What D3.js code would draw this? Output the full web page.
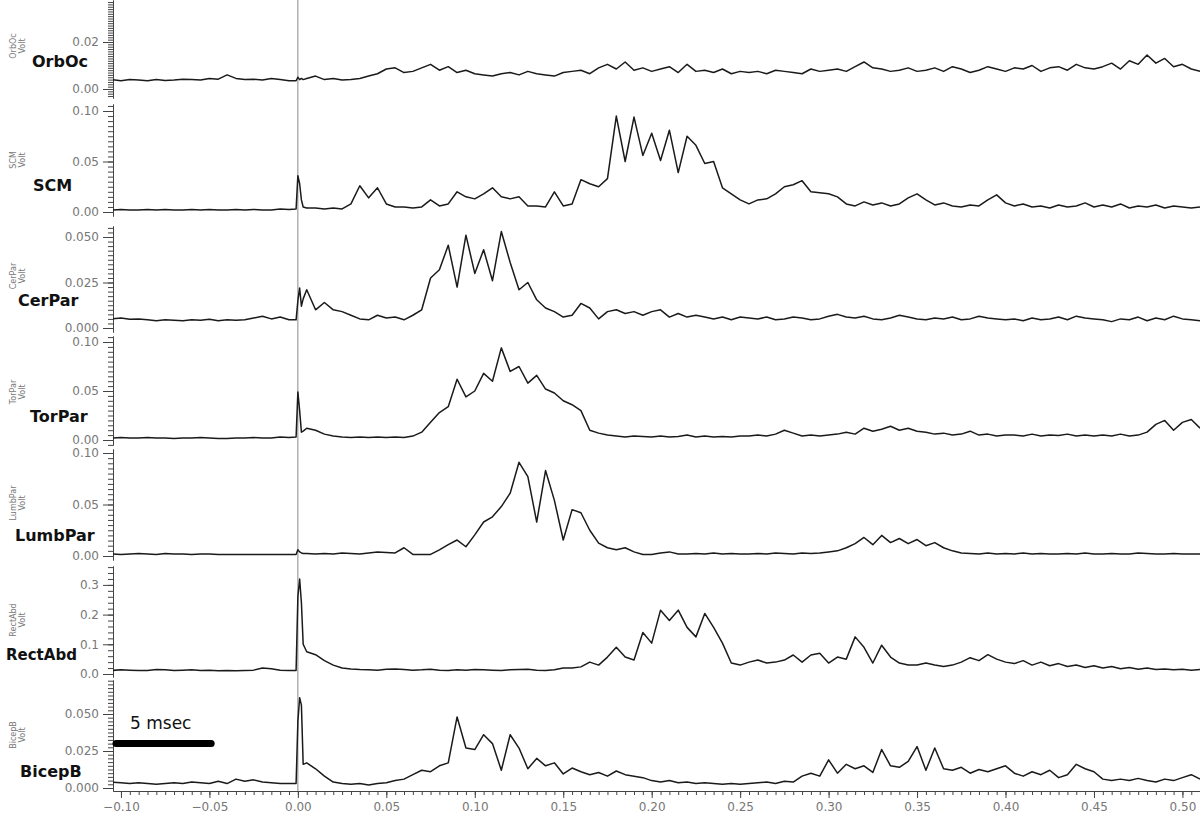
<!DOCTYPE html>
<html>
<head>
<meta charset="utf-8">
<script src="https://cdn.jsdelivr.net/npm/d3@7"></script>
<style>
  body { margin: 0; background: #fff; }
  text { font-family: "DejaVu Sans", Verdana, sans-serif; }
</style>
</head>
<body>
<svg id="chart" width="1200" height="825"></svg>
<script>
// Sample times (s): 5 ms grid, with a few extra samples round the stimulus at 0
const times = [
  ...d3.range(-0.105, -0.0049, 0.005),
  -0.001, 0, 0.001, 0.002, 0.003,
  ...d3.range(0.005, 0.5101, 0.005)
];

// EMG amplitude per channel (Volt)
const orbOc = [
  0.004,0.0035,0.004,0.0038,0.0035,0.004,0.0036,0.0038,0.0042,0.004,0.0038,0.0045,0.0042,0.006,0.0045,0.004,0.0042,0.0038,0.0045,0.004,0.0035,
  0.0035,0.005,0.004,0.0045,0.004,
  0.0045,0.0055,0.004,0.0045,0.0038,0.004,0.0045,0.0055,0.0065,0.0085,
  0.009,0.007,0.0075,0.009,0.0105,0.008,0.0095,0.007,0.008,0.0065,
  0.006,0.0055,0.0065,0.007,0.006,0.0075,0.0065,0.006,0.0055,0.007,
  0.0075,0.008,0.0065,0.009,0.0105,0.0085,0.0115,0.008,0.009,0.0075,
  0.0085,0.0095,0.007,0.0105,0.0075,0.008,0.007,0.0085,0.0065,0.0075,
  0.007,0.0075,0.0065,0.008,0.0075,0.007,0.0065,0.0085,0.0075,0.008,
  0.0085,0.0075,0.0095,0.0115,0.009,0.0085,0.0075,0.008,0.009,0.0075,
  0.008,0.009,0.0075,0.0095,0.0085,0.007,0.008,0.0095,0.0085,0.0075,
  0.009,0.0085,0.01,0.0075,0.009,0.0095,0.008,0.0105,0.009,0.0085,
  0.0095,0.011,0.0085,0.012,0.0105,0.0145,0.011,0.013,0.0095,0.0105,
  0.0085,0.0075
];
const scm = [
  0.002,0.0025,0.002,0.002,0.0025,0.002,0.0025,0.002,0.002,0.0025,0.002,0.0025,0.002,0.002,0.0025,0.002,0.0025,0.002,0.002,0.003,0.0025,
  0.003,0.036,0.028,0.012,0.005,
  0.004,0.004,0.003,0.004,0.003,0.008,0.026,0.014,0.024,0.008,
  0.005,0.005,0.004,0.005,0.012,0.006,0.008,0.02,0.015,0.013,
  0.018,0.024,0.015,0.013,0.015,0.006,0.006,0.005,0.02,0.006,
  0.008,0.032,0.028,0.025,0.033,0.095,0.05,0.094,0.056,0.078,
  0.051,0.081,0.039,0.075,0.066,0.048,0.05,0.024,0.018,0.012,
  0.008,0.012,0.013,0.018,0.025,0.027,0.031,0.02,0.019,0.018,
  0.015,0.008,0.006,0.01,0.007,0.009,0.006,0.008,0.014,0.018,
  0.012,0.007,0.009,0.006,0.005,0.007,0.006,0.012,0.017,0.009,
  0.006,0.008,0.005,0.006,0.004,0.007,0.005,0.006,0.009,0.005,
  0.007,0.005,0.008,0.004,0.006,0.005,0.007,0.004,0.006,0.005,
  0.004,0.005
];
const cerPar = [
  0.005,0.0055,0.0048,0.005,0.0045,0.004,0.0045,0.0042,0.004,0.0045,0.0043,0.0048,0.004,0.0045,0.0042,0.0045,0.0055,0.0065,0.005,0.006,0.0045,
  0.0045,0.015,0.022,0.012,0.016,
  0.021,0.01,0.014,0.01,0.009,0.007,0.005,0.0045,0.007,0.0055,
  0.006,0.0045,0.007,0.01,0.0275,0.032,0.0455,0.0225,0.051,0.03,
  0.043,0.026,0.053,0.036,0.021,0.025,0.0155,0.011,0.009,0.006,
  0.007,0.0135,0.011,0.005,0.009,0.01,0.008,0.009,0.007,0.009,
  0.01,0.006,0.008,0.006,0.007,0.006,0.005,0.006,0.0045,0.006,
  0.0055,0.005,0.006,0.0045,0.005,0.006,0.0055,0.0045,0.005,0.0065,
  0.0075,0.006,0.0055,0.0065,0.005,0.0045,0.0055,0.007,0.006,0.005,
  0.0045,0.0055,0.005,0.006,0.0045,0.005,0.0065,0.0055,0.005,0.0045,
  0.005,0.004,0.0055,0.0045,0.005,0.006,0.0045,0.0065,0.0055,0.005,
  0.0045,0.0035,0.005,0.0045,0.006,0.004,0.0055,0.0045,0.0065,0.005,
  0.0045,0.004
];
const torPar = [
  0.002,0.0025,0.002,0.002,0.0025,0.002,0.002,0.0015,0.002,0.002,0.0025,0.002,0.0015,0.0015,0.002,0.002,0.0025,0.002,0.002,0.003,0.0025,
  0.003,0.049,0.03,0.008,0.009,
  0.012,0.01,0.006,0.004,0.003,0.0025,0.003,0.0025,0.003,0.0025,
  0.003,0.0025,0.004,0.008,0.018,0.028,0.034,0.062,0.044,0.05,
  0.068,0.06,0.094,0.07,0.075,0.058,0.066,0.052,0.048,0.04,
  0.036,0.03,0.01,0.007,0.005,0.004,0.003,0.004,0.0035,0.003,
  0.004,0.003,0.0035,0.005,0.003,0.004,0.003,0.0035,0.003,0.004,
  0.004,0.005,0.004,0.006,0.01,0.007,0.004,0.005,0.004,0.005,
  0.006,0.008,0.006,0.012,0.009,0.011,0.014,0.01,0.012,0.009,
  0.008,0.006,0.007,0.005,0.006,0.009,0.005,0.006,0.004,0.005,
  0.005,0.004,0.006,0.004,0.005,0.0045,0.006,0.004,0.005,0.004,
  0.005,0.004,0.006,0.004,0.005,0.008,0.016,0.02,0.01,0.018,
  0.021,0.012
];
const lumbPar = [
  0.002,0.0015,0.002,0.0025,0.002,0.0015,0.0025,0.002,0.002,0.0015,0.002,0.002,0.0015,0.0015,0.0015,0.0015,0.0015,0.0015,0.0015,0.0015,0.0015,
  0.0015,0.006,0.004,0.003,0.0025,
  0.0025,0.002,0.0025,0.002,0.003,0.0025,0.002,0.003,0.004,0.0035,
  0.003,0.008,0.0015,0.0015,0.0015,0.006,0.011,0.0155,0.009,0.0205,
  0.033,0.038,0.048,0.061,0.091,0.077,0.033,0.083,0.054,0.0155,
  0.045,0.042,0.025,0.0125,0.008,0.006,0.008,0.004,0.0015,0.0015,
  0.003,0.004,0.002,0.002,0.0025,0.002,0.003,0.002,0.0025,0.002,
  0.002,0.0025,0.002,0.003,0.0025,0.002,0.003,0.0025,0.003,0.004,
  0.005,0.008,0.012,0.018,0.011,0.02,0.013,0.017,0.012,0.016,
  0.01,0.013,0.008,0.005,0.003,0.0025,0.002,0.003,0.002,0.0025,
  0.002,0.003,0.002,0.0025,0.002,0.002,0.0025,0.002,0.003,0.002,
  0.002,0.0025,0.002,0.002,0.003,0.0025,0.002,0.002,0.0025,0.002,
  0.002,0.002
];
const rectAbd = [
  0.012,0.014,0.013,0.012,0.012,0.015,0.014,0.012,0.013,0.014,0.012,0.013,0.011,0.012,0.011,0.012,0.013,0.02,0.018,0.013,0.012,
  0.012,0.26,0.32,0.24,0.1,
  0.075,0.065,0.045,0.03,0.02,0.017,0.015,0.014,0.013,0.016,
  0.017,0.015,0.013,0.014,0.016,0.013,0.012,0.014,0.013,0.015,
  0.014,0.013,0.012,0.014,0.015,0.016,0.013,0.012,0.014,0.02,
  0.02,0.024,0.04,0.03,0.057,0.09,0.057,0.047,0.14,0.104,
  0.215,0.18,0.215,0.157,0.125,0.204,0.157,0.104,0.037,0.03,
  0.04,0.047,0.037,0.04,0.047,0.064,0.04,0.064,0.07,0.037,
  0.057,0.05,0.125,0.09,0.037,0.097,0.057,0.037,0.03,0.03,
  0.037,0.03,0.025,0.03,0.04,0.055,0.045,0.065,0.05,0.04,
  0.035,0.045,0.03,0.04,0.028,0.035,0.025,0.03,0.022,0.028,
  0.02,0.025,0.018,0.022,0.016,0.02,0.015,0.017,0.014,0.016,
  0.013,0.015
];
const bicepB = [
  0.004,0.0035,0.003,0.0035,0.003,0.0025,0.003,0.0035,0.003,0.004,0.0035,0.003,0.0045,0.003,0.006,0.0045,0.0055,0.004,0.0035,0.003,0.003,
  0.003,0.045,0.061,0.056,0.016,
  0.017,0.013,0.008,0.004,0.003,0.0025,0.003,0.002,0.003,0.0035,
  0.005,0.006,0.009,0.012,0.011,0.015,0.017,0.048,0.027,0.026,
  0.036,0.03,0.012,0.036,0.027,0.013,0.02,0.015,0.017,0.0095,
  0.0135,0.011,0.009,0.0105,0.008,0.0115,0.009,0.008,0.007,0.005,
  0.004,0.005,0.0035,0.004,0.003,0.0035,0.003,0.0025,0.003,0.0025,
  0.003,0.0035,0.004,0.003,0.0045,0.004,0.008,0.01,0.008,0.019,
  0.01,0.016,0.013,0.015,0.0105,0.026,0.015,0.014,0.018,0.028,
  0.012,0.027,0.013,0.012,0.014,0.01,0.0125,0.011,0.013,0.015,
  0.01,0.008,0.011,0.009,0.012,0.007,0.009,0.016,0.013,0.011,
  0.006,0.005,0.006,0.005,0.0065,0.005,0.004,0.006,0.005,0.007,
  0.009,0.006
];

const channelNames = ["OrbOc", "SCM", "CerPar", "TorPar", "LumbPar", "RectAbd", "BicepB"];
const channelValues = [orbOc, scm, cerPar, torPar, lumbPar, rectAbd, bicepB];
const channelTicks = [
  [0, 0.02],
  [0, 0.05, 0.10],
  [0, 0.025, 0.050],
  [0, 0.05, 0.10],
  [0, 0.05, 0.10],
  [0, 0.1, 0.2, 0.3],
  [0, 0.025, 0.050]
];
const xTicks = [-0.10, -0.05, 0, 0.05, 0.10, 0.15, 0.20, 0.25, 0.30, 0.35, 0.40, 0.45, 0.50];
const scaleBarLabel = "5 msec";

// Panel geometry: pixel of zero, pixels per volt, axis extent, minor tick step
const panelLayout = [
  { zero: 89,  k: 2350, top: 0,   bottom: 98,  minor: 0.001,  fmt: ".2f", labelX: 32, labelY: 67,  labelSize: 16, sideY: 46 },
  { zero: 212, k: 1010, top: 104, bottom: 216, minor: 0.005,  fmt: ".2f", labelX: 33, labelY: 191, labelSize: 16, sideY: 160 },
  { zero: 328, k: 1820, top: 226, bottom: 332, minor: 0.0025, fmt: ".3f", labelX: 18, labelY: 306, labelSize: 16, sideY: 276 },
  { zero: 440, k: 980,  top: 336, bottom: 445, minor: 0.005,  fmt: ".2f", labelX: 30, labelY: 422, labelSize: 16, sideY: 392 },
  { zero: 556, k: 1030, top: 449, bottom: 560, minor: 0.005,  fmt: ".2f", labelX: 15, labelY: 541, labelSize: 16, sideY: 503 },
  { zero: 674, k: 297,  top: 566, bottom: 677, minor: 0.02,   fmt: ".1f", labelX: 6,  labelY: 660, labelSize: 15, sideY: 620 },
  { zero: 788, k: 1480, top: 680, bottom: 791, minor: 0.0025, fmt: ".3f", labelX: 20, labelY: 777, labelSize: 16, sideY: 735 }
];

const svg = d3.select("#chart");
const axisX = 113;
const xAxisY = 791;
const tickColor = "#777";

const x = d3.scaleLinear().domain([-0.1045, 0.5105]).range([axisX, 1201]);

svg.append("defs").append("clipPath").attr("id", "plot-clip")
  .append("rect").attr("x", axisX).attr("y", 0).attr("width", 1200 - axisX).attr("height", xAxisY);

// Stimulus marker at t = 0
svg.append("line")
  .attr("x1", x(0)).attr("x2", x(0))
  .attr("y1", 0).attr("y2", xAxisY)
  .attr("stroke", "#8a8a8a").attr("stroke-width", 1);

const line = d3.line()
  .x((d, i) => x(times[i]));

channelNames.forEach((name, ci) => {
  const p = panelLayout[ci];
  const y = d3.scaleLinear()
    .domain([(p.zero - p.bottom) / p.k, (p.zero - p.top) / p.k])
    .range([p.bottom, p.top]);

  const [lo, hi] = y.domain();
  const minorTicks = d3.range(Math.ceil(lo / p.minor), Math.floor(hi / p.minor) + 1).map((i) => i * p.minor);

  // minor comb
  svg.append("g")
    .attr("transform", `translate(${axisX},0)`)
    .call(d3.axisLeft(y).tickValues(minorTicks).tickSize(5).tickSizeOuter(0).tickFormat(""))
    .call((g) => g.selectAll("line,path").attr("stroke", "#444"));

  // labelled ticks
  svg.append("g")
    .attr("transform", `translate(${axisX},0)`)
    .call(d3.axisLeft(y).tickValues(channelTicks[ci]).tickSize(10).tickSizeOuter(0).tickFormat(d3.format(p.fmt)))
    .call((g) => g.select(".domain").attr("stroke", "#444"))
    .call((g) => g.selectAll(".tick line").attr("stroke", "#444"))
    .call((g) => g.selectAll(".tick text")
      .attr("font-family", "DejaVu Sans, sans-serif")
      .attr("font-size", 12)
      .attr("fill", tickColor)
      .attr("x", -14));

  // trace
  svg.append("path")
    .datum(channelValues[ci])
    .attr("clip-path", "url(#plot-clip)")
    .attr("fill", "none")
    .attr("stroke", "#1a1a1a")
    .attr("stroke-width", 1.5)
    .attr("stroke-linejoin", "round")
    .attr("d", line.y((d) => y(d)));

  // channel name
  svg.append("text")
    .attr("x", p.labelX).attr("y", p.labelY)
    .attr("font-size", p.labelSize).attr("font-weight", "bold")
    .attr("fill", "#111")
    .text(name);

  // small rotated axis title
  const side = svg.append("g")
    .attr("transform", `translate(0,${p.sideY}) rotate(-90)`)
    .attr("font-size", 8).attr("fill", "#777").attr("text-anchor", "middle");
  side.append("text").attr("x", 0).attr("y", 16).text(name);
  side.append("text").attr("x", 0).attr("y", 25).text("Volt");

  if (name === "BicepB") {
    // 5 msec scale bar drawn inside the last panel
    const barY = y(0.03);
    svg.append("line")
      .attr("x1", axisX + 3).attr("x2", x(-0.049))
      .attr("y1", barY).attr("y2", barY)
      .attr("stroke", "#000").attr("stroke-width", 7)
      .attr("stroke-linecap", "round");
    svg.append("text")
      .attr("x", 130).attr("y", barY - 15)
      .attr("font-size", 17).attr("fill", "#111")
      .text(scaleBarLabel);
  }
});

// time axis
const minorX = d3.range(-20, 103).map((i) => i * 0.005);
svg.append("g")
  .attr("transform", `translate(0,${xAxisY})`)
  .call(d3.axisBottom(x).tickValues(minorX).tickSize(4).tickSizeOuter(0).tickFormat(""))
  .call((g) => g.selectAll("line,path").attr("stroke", "#444"));

svg.append("g")
  .attr("transform", `translate(0,${xAxisY})`)
  .call(d3.axisBottom(x).tickValues(xTicks).tickSize(7).tickSizeOuter(0).tickFormat(d3.format(".2f")))
  .call((g) => g.select(".domain").remove())
  .call((g) => g.selectAll(".tick line").attr("stroke", "#444"))
  .call((g) => g.selectAll(".tick text")
    .attr("font-family", "DejaVu Sans, sans-serif")
    .attr("font-size", 12)
    .attr("fill", tickColor)
    .attr("y", 11));
</script>
</body>
</html>
